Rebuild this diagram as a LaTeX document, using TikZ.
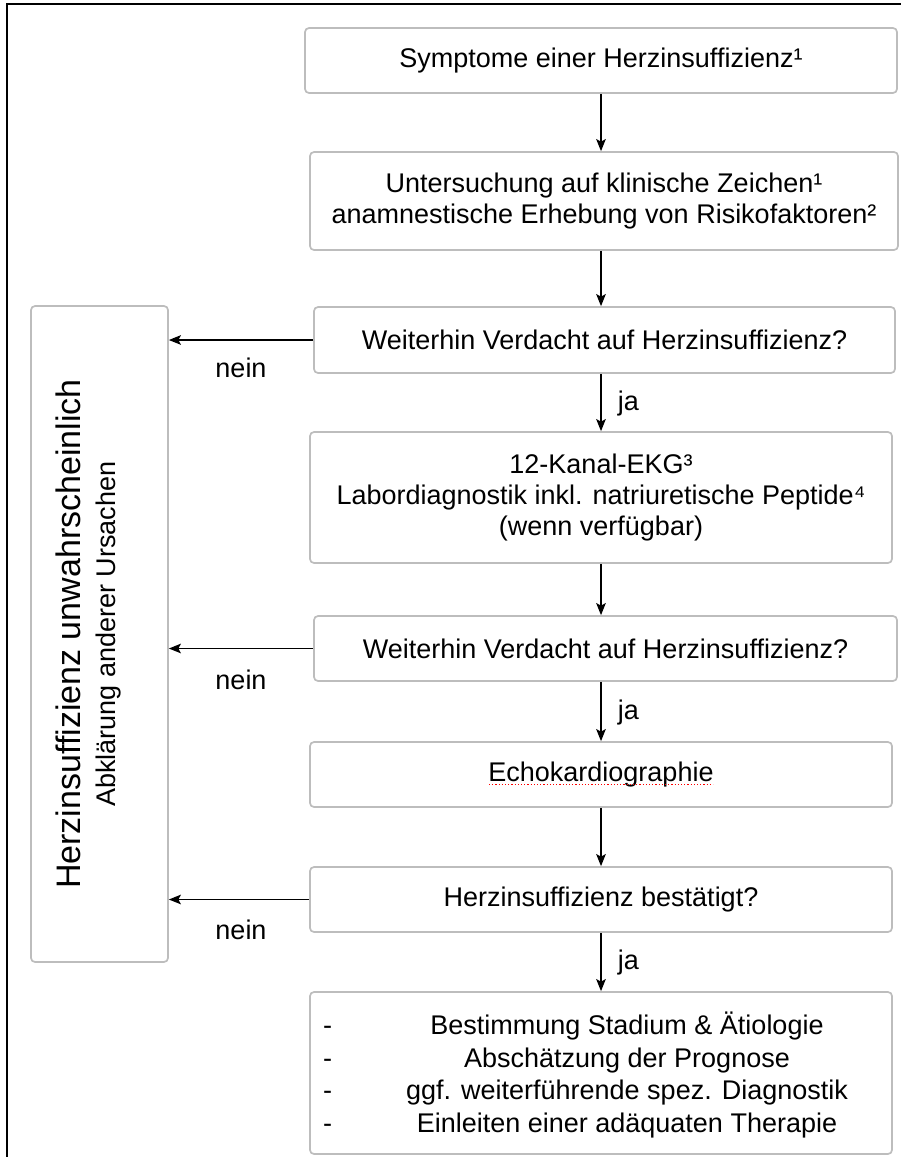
\documentclass[tikz,border=0pt]{standalone}
\usepackage{fontspec}
\setmainfont{Liberation Sans}
\usepackage{array}
\usetikzlibrary{arrows.meta}
\begin{document}
\begin{tikzpicture}[x=1pt,y=-1pt,
  box/.style={draw=black!26, line width=1.7pt, fill=white, rounded corners=4pt,
    inner sep=0pt, align=center, font={\fontsize{27}{31}\selectfont}},
  arr/.style={line width=1.8pt, -{Stealth[length=12pt,width=9.5pt,inset=2.5pt]}},
  lbl/.style={font={\fontsize{27}{31}\selectfont}, inner sep=0pt}
]
\useasboundingbox (0,0) rectangle (900,1157);
\draw[line width=2pt] (7,1165) -- (7,4) -- (905,4);

\coordinate (axis) at (601,0);

\node[box, minimum width=592pt, minimum height=65pt] (b1) at (601,60.5)
  {Symptome einer Herzinsuffizienz¹};
\node[box, minimum width=588pt, minimum height=98pt] (b2) at (604,201)
  {Untersuchung auf klinische Zeichen¹\\anamnestische Erhebung von Risikofaktoren²};
\node[box, minimum width=581pt, minimum height=66pt] (b3) at (604.5,340)
  {Weiterhin Verdacht auf Herzinsuffizienz?};
\node[box, minimum width=582pt, minimum height=131pt] (b4) at (601,497.5)
  {12-Kanal-EKG³\\Labordiagnostik inkl. natriuretische Peptide⁴\\(wenn verfügbar)};
\node[box, minimum width=583pt, minimum height=65pt] (b5) at (605.5,648.5)
  {Weiterhin Verdacht auf Herzinsuffizienz?};
\node[box, minimum width=582pt, minimum height=65pt] (b6) at (601,774.5)
  {Echokardiographie};
\node[box, minimum width=582pt, minimum height=65pt] (b7) at (601,899.5)
  {Herzinsuffizienz bestätigt?};
\node[box, minimum width=582pt, minimum height=162pt, font={\fontsize{27}{32.5}\selectfont}] (b8) at (601,1073)
  {\raisebox{-4pt}[\height][\depth]{\begin{tabular}{@{}p{40pt}>{\centering\arraybackslash}p{504pt}@{}}
   - & Bestimmung Stadium \& Ätiologie\\
   - & Abschätzung der Prognose\\
   - & ggf. weiterführende spez. Diagnostik\\
   - & Einleiten einer adäquaten Therapie
   \end{tabular}}};

\node[box, minimum width=137pt, minimum height=656pt] (lbox) at (99.5,634) {};
\node[lbl, font={\fontsize{34}{40}\selectfont}, rotate=90, anchor=base] (l1) at (80,634)
  {Herzinsuffizienz unwahrscheinlich};
\node[lbl, rotate=90, anchor=base] (l2) at (115,634)
  {Abklärung anderer Ursachen};

% spell-check underline
\draw[red, dotted, line width=1.2pt] ([xshift=-112pt,yshift=-10pt]b6.center) -- ([xshift=112pt,yshift=-10pt]b6.center);

% vertical arrows
\draw[arr] (b1.south -| axis) -- (b2.north -| axis);
\draw[arr] (b2.south -| axis) -- (b3.north -| axis);
\draw[arr] (b3.south -| axis) -- node[lbl, anchor=base west, xshift=16pt, yshift=-7.5pt] (j1) {ja} (b4.north -| axis);
\draw[arr] (b4.south -| axis) -- (b5.north -| axis);
\draw[arr] (b5.south -| axis) -- node[lbl, anchor=base west, xshift=16pt, yshift=-7.5pt] (j2) {ja} (b6.north -| axis);
\draw[arr] (b6.south -| axis) -- (b7.north -| axis);
\draw[arr] (b7.south -| axis) -- node[lbl, anchor=base west, xshift=16pt, yshift=-7.5pt] (j3) {ja} (b8.north -| axis);

% nein arrows
\draw[arr] (b3.west) -- (b3.west -| lbox.east);
\draw[arr] (b5.west) -- (b5.west -| lbox.east);
\draw[arr] (b7.west) -- (b7.west -| lbox.east);
\node[lbl] (n1) at (241,368) {nein};
\node[lbl] (n2) at (241,680) {nein};
\node[lbl] (n3) at (241,930) {nein};
\end{tikzpicture}
\end{document}
